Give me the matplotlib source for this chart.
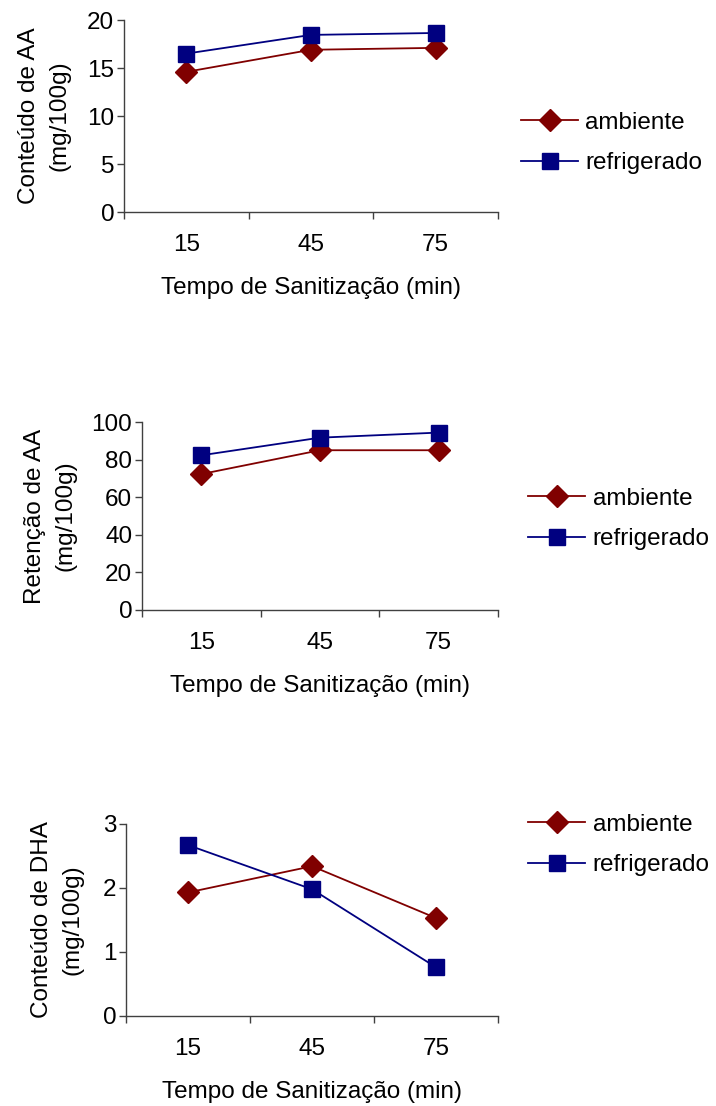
import matplotlib
matplotlib.use('Agg')
import matplotlib.pyplot as plt

tempos = ['15', '45', '75']
series = ['ambiente', 'refrigerado']

aa_ambiente = [14.6, 16.9, 17.1]
aa_refrigerado = [16.5, 18.45, 18.65]

ret_ambiente = [72.4, 85.1, 85.1]
ret_refrigerado = [82.4, 91.8, 94.5]

dha_ambiente = [1.93, 2.34, 1.53]
dha_refrigerado = [2.67, 1.98, 0.76]

plt.rcParams['font.family'] = ['Liberation Sans', 'DejaVu Sans']
plt.rcParams['font.size'] = 17.5

RED = '#800000'
BLUE = '#000080'
AXC = '#404040'


def panel(fig, rect, amb, ref, ylim, yticks, ylabel, leg_pos, ypad):
    ax = fig.add_axes(rect)
    x = range(len(tempos))
    ax.plot(x, amb, color=RED, lw=1.3, marker='D', ms=11, label=series[0])
    ax.plot(x, ref, color=BLUE, lw=1.3, marker='s', ms=11.5, label=series[1])
    ax.set_xlim(-0.5, len(tempos) - 0.5)
    ax.set_ylim(*ylim)
    ax.set_yticks(yticks)
    # category boundaries get the tick marks, centres get the labels
    ax.set_xticks([i - 0.5 for i in range(len(tempos) + 1)])
    ax.set_xticklabels([])
    ax.set_xticks(list(x), minor=True)
    ax.set_xticklabels(tempos, minor=True)
    ax.tick_params(which='major', direction='out', length=5, width=1, color=AXC)
    ax.tick_params(axis='y', pad=2)
    ax.tick_params(axis='x', which='minor', length=0, pad=16)
    for s in ['top', 'right']:
        ax.spines[s].set_visible(False)
    for s in ['left', 'bottom']:
        ax.spines[s].set_color(AXC)
        ax.spines[s].set_linewidth(1)
    ax.set_ylabel(ylabel, labelpad=ypad, linespacing=1.5)
    ax.set_xlabel('Tempo de Sanitização (min)', labelpad=15)
    ax.legend(loc='center left', bbox_to_anchor=leg_pos, bbox_transform=fig.transFigure,
              frameon=False, handlelength=2.35, handletextpad=0.3, labelspacing=0.75,
              borderaxespad=0)
    return ax


fig = plt.figure(figsize=(7.16, 11.06), dpi=100)

panel(fig, [0.1732, 0.8083, 0.5223, 0.1736], aa_ambiente, aa_refrigerado,
      (0, 20), [0, 5, 10, 15, 20], 'Conteúdo de AA\n(mg/100g)', (0.714, 1 - 143 / 1106), 12)
panel(fig, [0.1983, 0.4485, 0.4972, 0.1697], ret_ambiente, ret_refrigerado,
      (0, 100), [0, 20, 40, 60, 80, 100], 'Retenção de AA\n(mg/100g)', (0.724, 1 - 519 / 1106), 11)
panel(fig, [0.176, 0.0814, 0.5196, 0.1736], dha_ambiente, dha_refrigerado,
      (0, 3), [0, 1, 2, 3], 'Conteúdo de DHA\n(mg/100g)', (0.724, 1 - 845 / 1106), 14)

fig.savefig('out.png', dpi=100)
